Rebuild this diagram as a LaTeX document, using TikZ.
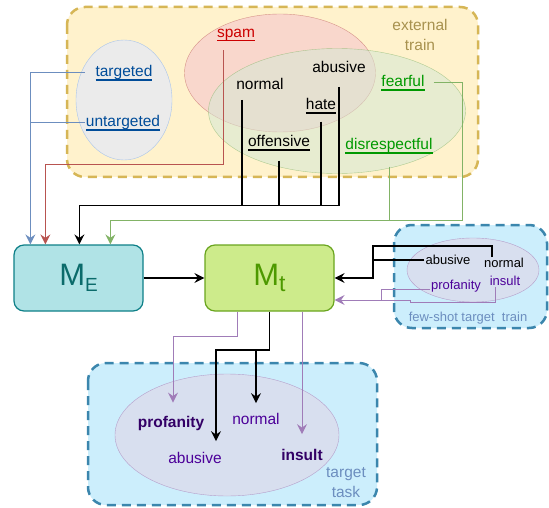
\documentclass[tikz,border=0pt]{standalone}
\usepackage{fontspec}
\setmainfont{Liberation Sans}
\usepackage{xcolor}
\usetikzlibrary{arrows.meta,shapes.geometric}
\newsavebox{\ulbox}
\newcommand{\uln}[1]{\sbox{\ulbox}{#1}\rlap{\vrule width\wd\ulbox height-2.4pt depth3.8pt}\usebox{\ulbox}}

\definecolor{extfill}{HTML}{FFF2CC}
\definecolor{extline}{HTML}{D6B656}
\definecolor{extcol}{HTML}{A8924F}
\definecolor{grpfill}{HTML}{EBEBEB}
\definecolor{grpline}{HTML}{A9C4EB}
\definecolor{tgtblue}{HTML}{004C99}
\definecolor{spamfill}{HTML}{F8CECC}
\definecolor{spamline}{HTML}{B85450}
\definecolor{spamred}{HTML}{CC0000}
\definecolor{grnfill}{HTML}{D5E8D4}
\definecolor{grnline}{HTML}{82B366}
\definecolor{fgreen}{HTML}{009900}
\definecolor{mefill}{HTML}{B0E3E6}
\definecolor{meline}{HTML}{0E8088}
\definecolor{metext}{HTML}{0B6B6B}
\definecolor{mtfill}{HTML}{CDEB8B}
\definecolor{mtline}{HTML}{6AA51F}
\definecolor{mttext}{HTML}{4D9900}
\definecolor{fsfill}{HTML}{CCEEFC}
\definecolor{fsline}{HTML}{3B86AD}
\definecolor{elfill}{HTML}{E1D5E7}
\definecolor{elline}{HTML}{B59FCB}
\definecolor{purtext}{HTML}{4C0099}
\definecolor{purbold}{HTML}{330066}
\definecolor{purarr}{HTML}{A07CB8}
\definecolor{bluearr}{HTML}{6C8EBF}

\begin{document}
\begin{tikzpicture}[x=1pt,y=-1pt,
  lbl/.style={font=\fontsize{15.5}{20}\selectfont, inner sep=1pt},
  sml/.style={font=\fontsize{13}{15}\selectfont, inner sep=1pt},
  tip/.style={-{Stealth[length=10pt,width=10pt,inset=3.5pt]}},
  link/.style={draw=#1, line width=1pt},
  blk/.style={draw=black, line width=1.3pt},
  dbox/.style={rounded corners=18pt, dash pattern=on 9pt off 6pt, line width=2.5pt},
  mbox/.style={rounded corners=10pt, line width=1.2pt, minimum width=129pt, minimum height=66pt, inner sep=0pt}]
  \fill[white] (0,0) rectangle (549,508);
  \useasboundingbox (0,0) rectangle (549,508);

  % external train
  \draw[dbox, draw=extline, fill=extfill] (67,7) rectangle (478,177);
  \node[lbl, text=extcol, align=center] (ext) at (420,35) {external\\train};
  \node[ellipse, draw=grpline, fill=grpfill, minimum width=96pt, minimum height=120pt] (grp) at (124,100) {};
  \node[ellipse, draw=spamline, draw opacity=.55, fill=spamfill, fill opacity=.75, minimum width=191pt, minimum height=118pt] (sets1) at (280,73) {};
  \node[ellipse, draw=grnline, draw opacity=.6, fill=grnfill, fill opacity=.55, minimum width=257pt, minimum height=125pt] (sets2) at (337,111) {};

  \node[lbl, text=tgtblue] (targeted) at (124,73) {\uln{targeted}};
  \node[lbl, text=tgtblue] (untargeted) at (123,123) {\uln{untargeted}};
  \node[lbl, text=spamred] (spam) at (236,35) {\uln{spam}};
  \node[lbl] (normal) at (260,84) {normal};
  \node[lbl] (abusive) at (339,67) {abusive};
  \node[lbl] (hate) at (321,106) {\uln{hate}};
  \node[lbl] (offensive) at (279,143) {\uln{offensive}};
  \node[lbl, text=fgreen] (fearful) at (403,83) {\uln{fearful}};
  \node[lbl, text=fgreen] (disresp) at (389,146) {\uln{disrespectful}};

  % models
  \node[mbox, draw=meline, fill=mefill, text=metext] (ME) at (78.5,278)
    {{\fontsize{31}{31}\selectfont M}\raisebox{-6pt}{\fontsize{19}{19}\selectfont E}};
  \node[mbox, draw=mtline, fill=mtfill, text=mttext] (Mt) at (269.5,278)
    {{\fontsize{31}{31}\selectfont M}\raisebox{-6pt}{\fontsize{23}{23}\selectfont t}};

  \coordinate (inB) at ([xshift=17pt]ME.north west);
  \coordinate (inR) at ([xshift=32pt]ME.north west);
  \coordinate (inK) at ([xshift=66pt]ME.north west);
  \coordinate (inG) at ([xshift=97pt]ME.north west);
  \coordinate (kb) at ([yshift=39pt]inK);
  \coordinate (gc) at (462,220);
  \coordinate (n0) at ([xshift=-18pt]normal.south);

  \draw[link=bluearr, tip] (targeted.west -| untargeted.west) -| (inB);
  \draw[link=bluearr] (untargeted.west) -- (untargeted.west -| inB);
  \draw[link=spamline, tip] ([xshift=-13pt,yshift=-8pt]spam.south) |- ([yshift=80pt]inR) -- (inR);
  \draw[blk] ([yshift=-13pt]abusive.south) |- (kb);
  \draw[blk, shorten <=9pt] (n0) -- (n0 |- kb);
  \draw[blk, shorten <=7pt] (hate.south) -- (hate.south |- kb);
  \draw[blk, shorten <=9pt] (offensive.south) -- (offensive.south |- kb);
  \draw[blk, tip] (kb) -- (inK);
  \draw[link=grnline, tip, shorten <=8pt] (fearful.east) -| (gc) -| (inG);
  \draw[link=grnline, shorten <=12pt] (disresp.south) -- (disresp.south |- gc);

  \draw[blk, tip] (ME) -- (Mt);

  % few-shot target train
  \draw[dbox, draw=fsline, fill=fsfill] (394,225) rectangle (547,328);
  \node[ellipse, draw=elline, fill=elfill, fill opacity=.6, minimum width=132pt, minimum height=64pt] (fsset) at (473,270) {};
  \node[sml] (fabusive) at (448,260) {abusive};
  \node[sml] (fnormal) at (504,263) {normal};
  \node[sml, text=purtext] (fprof) at (456,286) {profanity};
  \node[sml, text=purtext] (finsult) at (505,281) {insult};
  \node[sml, text=bluearr] (fscap) at (468,318) {few-shot target\ \ train};

  \coordinate (kc) at (373,246);
  \coordinate (pc) at (381,300);
  \coordinate (pd) at (410,302);
  \draw[blk, tip] ([xshift=-12pt]fnormal.north) |- (kc) |- (Mt.east);
  \draw[blk] (fabusive.west) -- (fabusive.west -| kc);
  \draw[link=purarr, tip] ([yshift=-3pt]fprof.west) -| (pc) -- (Mt.east |- pc);
  \draw[link=purarr] ([xshift=-10pt]finsult.south) |- (pd) |- (pc);

  % target task
  \draw[dbox, draw=fsline, fill=fsfill] (88,363) rectangle (377,505);
  \node[ellipse, draw=elline, fill=elfill, fill opacity=.6, minimum width=224pt, minimum height=122pt] (tset) at (227,435) {};
  \node[lbl, text=purbold, font=\fontsize{15.5}{20}\selectfont\bfseries] (tprof) at (171,423) {profanity};
  \node[lbl, text=purtext] (tnormal) at (256,419) {normal};
  \node[lbl, text=purtext] (tabusive) at (195,458) {abusive};
  \node[lbl, text=purbold, font=\fontsize{15.5}{20}\selectfont\bfseries] (tinsult) at (302,455) {insult};
  \node[lbl, text=bluearr, align=center] (tcap) at (346,483) {target\\task};

  \coordinate (pe) at (173,336);
  \coordinate (kd) at (216,350);
  \draw[link=purarr, tip, shorten >=12pt] ([xshift=-32.5pt]Mt.south) |- (pe) -- (pe |- tprof.north);
  \draw[blk, tip, shorten >=10pt] (Mt.south) |- (kd) -- (kd |- tabusive.north);
  \draw[blk, tip, shorten >=9pt] (kd -| tnormal.north) -- (tnormal.north);
  \draw[link=purarr, tip, shorten >=14pt] (tinsult.north |- Mt.south) -- (tinsult.north);
\end{tikzpicture}
\end{document}
